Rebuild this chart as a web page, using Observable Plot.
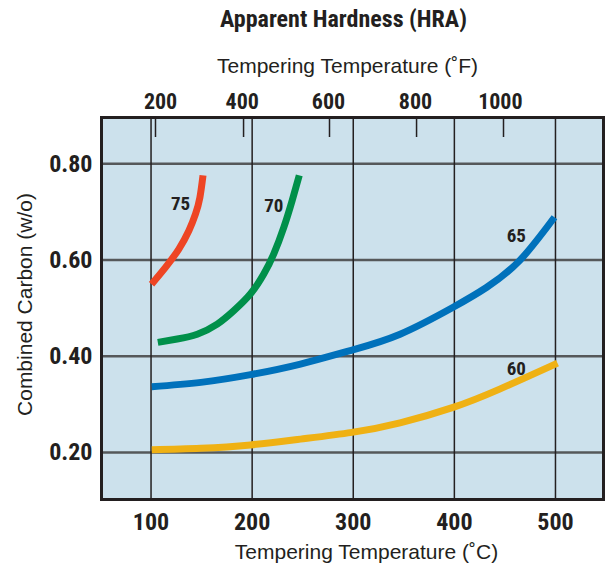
<!DOCTYPE html>
<html>
<head>
<meta charset="utf-8">
<script src="https://cdn.jsdelivr.net/npm/d3@7"></script>
<script src="https://cdn.jsdelivr.net/npm/@observablehq/plot@0.6"></script>
<style>
  html, body { margin: 0; padding: 0; background: #ffffff; }
  #chart svg { display: block; }
</style>
</head>
<body>
<div id="chart"></div>
<script>
// ---- Data ----
const tempTicksC = [100, 200, 300, 400, 500];
const carbonTicks = [0.20, 0.40, 0.60, 0.80];
const tempTicksF = [200, 400, 600, 800, 1000];
// positions of the °F ticks and their labels as drawn on the chart, on the °C axis
const tempTicksFPosC = [104.4, 191.5, 276.5, 362.6, 448.6];
const tempLabelsFPosC = [109.4, 190.2, 275.5, 361.5, 445.5];

const hra75Temp   = [100.5, 114.3, 127.5, 137.4, 144.0, 148.3, 151.4];
const hra75Carbon = [0.550, 0.585, 0.623, 0.661, 0.696, 0.730, 0.776];

const hra70Temp   = [106.7, 125.9, 145.7, 165.5, 181.9, 198.4, 211.5, 221.4, 231.3, 239.6, 246.6];
const hra70Carbon = [0.429, 0.436, 0.446, 0.467, 0.495, 0.530, 0.571, 0.613, 0.668, 0.724, 0.776];

const hra65Temp   = [100.7, 149.3, 198.5, 247.8, 297.0, 346.3, 398.8, 431.7, 464.5, 499.0];
const hra65Carbon = [0.337, 0.346, 0.362, 0.384, 0.412, 0.446, 0.502, 0.543, 0.599, 0.689];

const hra60Temp   = [100.7, 149.3, 198.5, 247.8, 298.7, 346.3, 398.8, 444.8, 502.0];
const hra60Carbon = [0.206, 0.209, 0.216, 0.228, 0.242, 0.262, 0.294, 0.332, 0.386];

const curveNames  = ["75", "70", "65", "60"];
const curveColors = ["#ee4524", "#00904a", "#0071bb", "#efb114"];
const labelTemp   = [129.2, 221.4, 461.3, 461.3];
const labelCarbon = [0.717, 0.713, 0.651, 0.374];

// ---- Build tables ----
function series(name, xs, ys) { return xs.map((x, i) => ({name, temp: x, carbon: ys[i]})); }
const curves = [
  series("75", hra75Temp, hra75Carbon),
  series("70", hra70Temp, hra70Carbon),
  series("65", hra65Temp, hra65Carbon),
  series("60", hra60Temp, hra60Carbon)
];
const labels = curveNames.map((n, i) => ({name: n, temp: labelTemp[i], carbon: labelCarbon[i]}));
const fTicks = tempTicksF.map((f, i) => ({f, pos: tempTicksFPosC[i], labelPos: tempLabelsFPosC[i]}));

const bold = "'Roboto Condensed', 'Open Sans', sans-serif";
const regular = "'Liberation Sans', Arial, Helvetica, sans-serif";
const ink = "#231f20";
const mid = {lineAnchor: "middle", fill: ink};

const chart = Plot.plot({
  width: 605,
  height: 571,
  marginTop: 117,
  marginBottom: 72,
  marginLeft: 101,
  marginRight: 2,
  x: {domain: [51, 547.5], axis: null},
  y: {domain: [0.1026, 0.8963], axis: null},
  style: {background: "#ffffff", overflow: "visible"},
  marks: [
    Plot.frame({fill: "#cce1ec", stroke: null}),
    Plot.ruleY(carbonTicks, {stroke: "#55585a", strokeWidth: 2.5}),
    Plot.ruleX(tempTicksC, {stroke: ink, strokeWidth: 1.5}),
    Plot.ruleX(fTicks, {x: "pos", stroke: ink, strokeWidth: 1.5, insetBottom: 362}),
    ...curves.map((c, i) => Plot.line(c, {
      x: "temp", y: "carbon", stroke: curveColors[i], strokeWidth: 7,
      curve: "natural", strokeLinecap: "butt", strokeLinejoin: "round"
    })),
    Plot.text(labels, {x: "temp", y: "carbon", text: "name", ...mid, textAnchor: "middle",
      fontFamily: bold, fontWeight: "bold", fontSize: 19}),
    Plot.frame({stroke: ink, strokeWidth: 3}),
    // bottom °C tick labels
    Plot.text(tempTicksC, {x: d => d, frameAnchor: "bottom", dy: 23.3, text: d => String(d),
      ...mid, textAnchor: "middle", fontFamily: bold, fontWeight: "bold", fontSize: 24}),
    // left carbon tick labels
    Plot.text(carbonTicks, {y: d => d, frameAnchor: "left", dx: -9, textAnchor: "end",
      text: d => d.toFixed(2), ...mid, fontFamily: bold, fontWeight: "bold", fontSize: 24}),
    // top °F tick labels
    Plot.text(fTicks, {x: "labelPos", frameAnchor: "top", dy: -16, text: d => String(d.f),
      ...mid, textAnchor: "middle", fontFamily: bold, fontWeight: "bold", fontSize: 22}),
    // axis titles
    Plot.text(["Apparent Hardness (HRA)"], {frameAnchor: "top", dx: -9, dy: -97.7,
      ...mid, textAnchor: "middle", fontFamily: bold, fontWeight: "bold", fontSize: 24}),
    Plot.text(["Tempering Temperature (˚F)"], {frameAnchor: "top", dx: -5, dy: -51.7,
      ...mid, textAnchor: "middle", fontFamily: regular, fontSize: 21}),
    Plot.text(["Tempering Temperature (˚C)"], {frameAnchor: "bottom", dx: 14, dy: 52.3,
      ...mid, textAnchor: "middle", fontFamily: regular, fontSize: 21}),
    Plot.text(["Combined Carbon (w/o)"], {frameAnchor: "left", dx: -76, dy: -4, rotate: -90,
      ...mid, textAnchor: "middle", fontFamily: regular, fontSize: 21})
  ]
});
document.getElementById("chart").appendChild(chart);
</script>
</body>
</html>
